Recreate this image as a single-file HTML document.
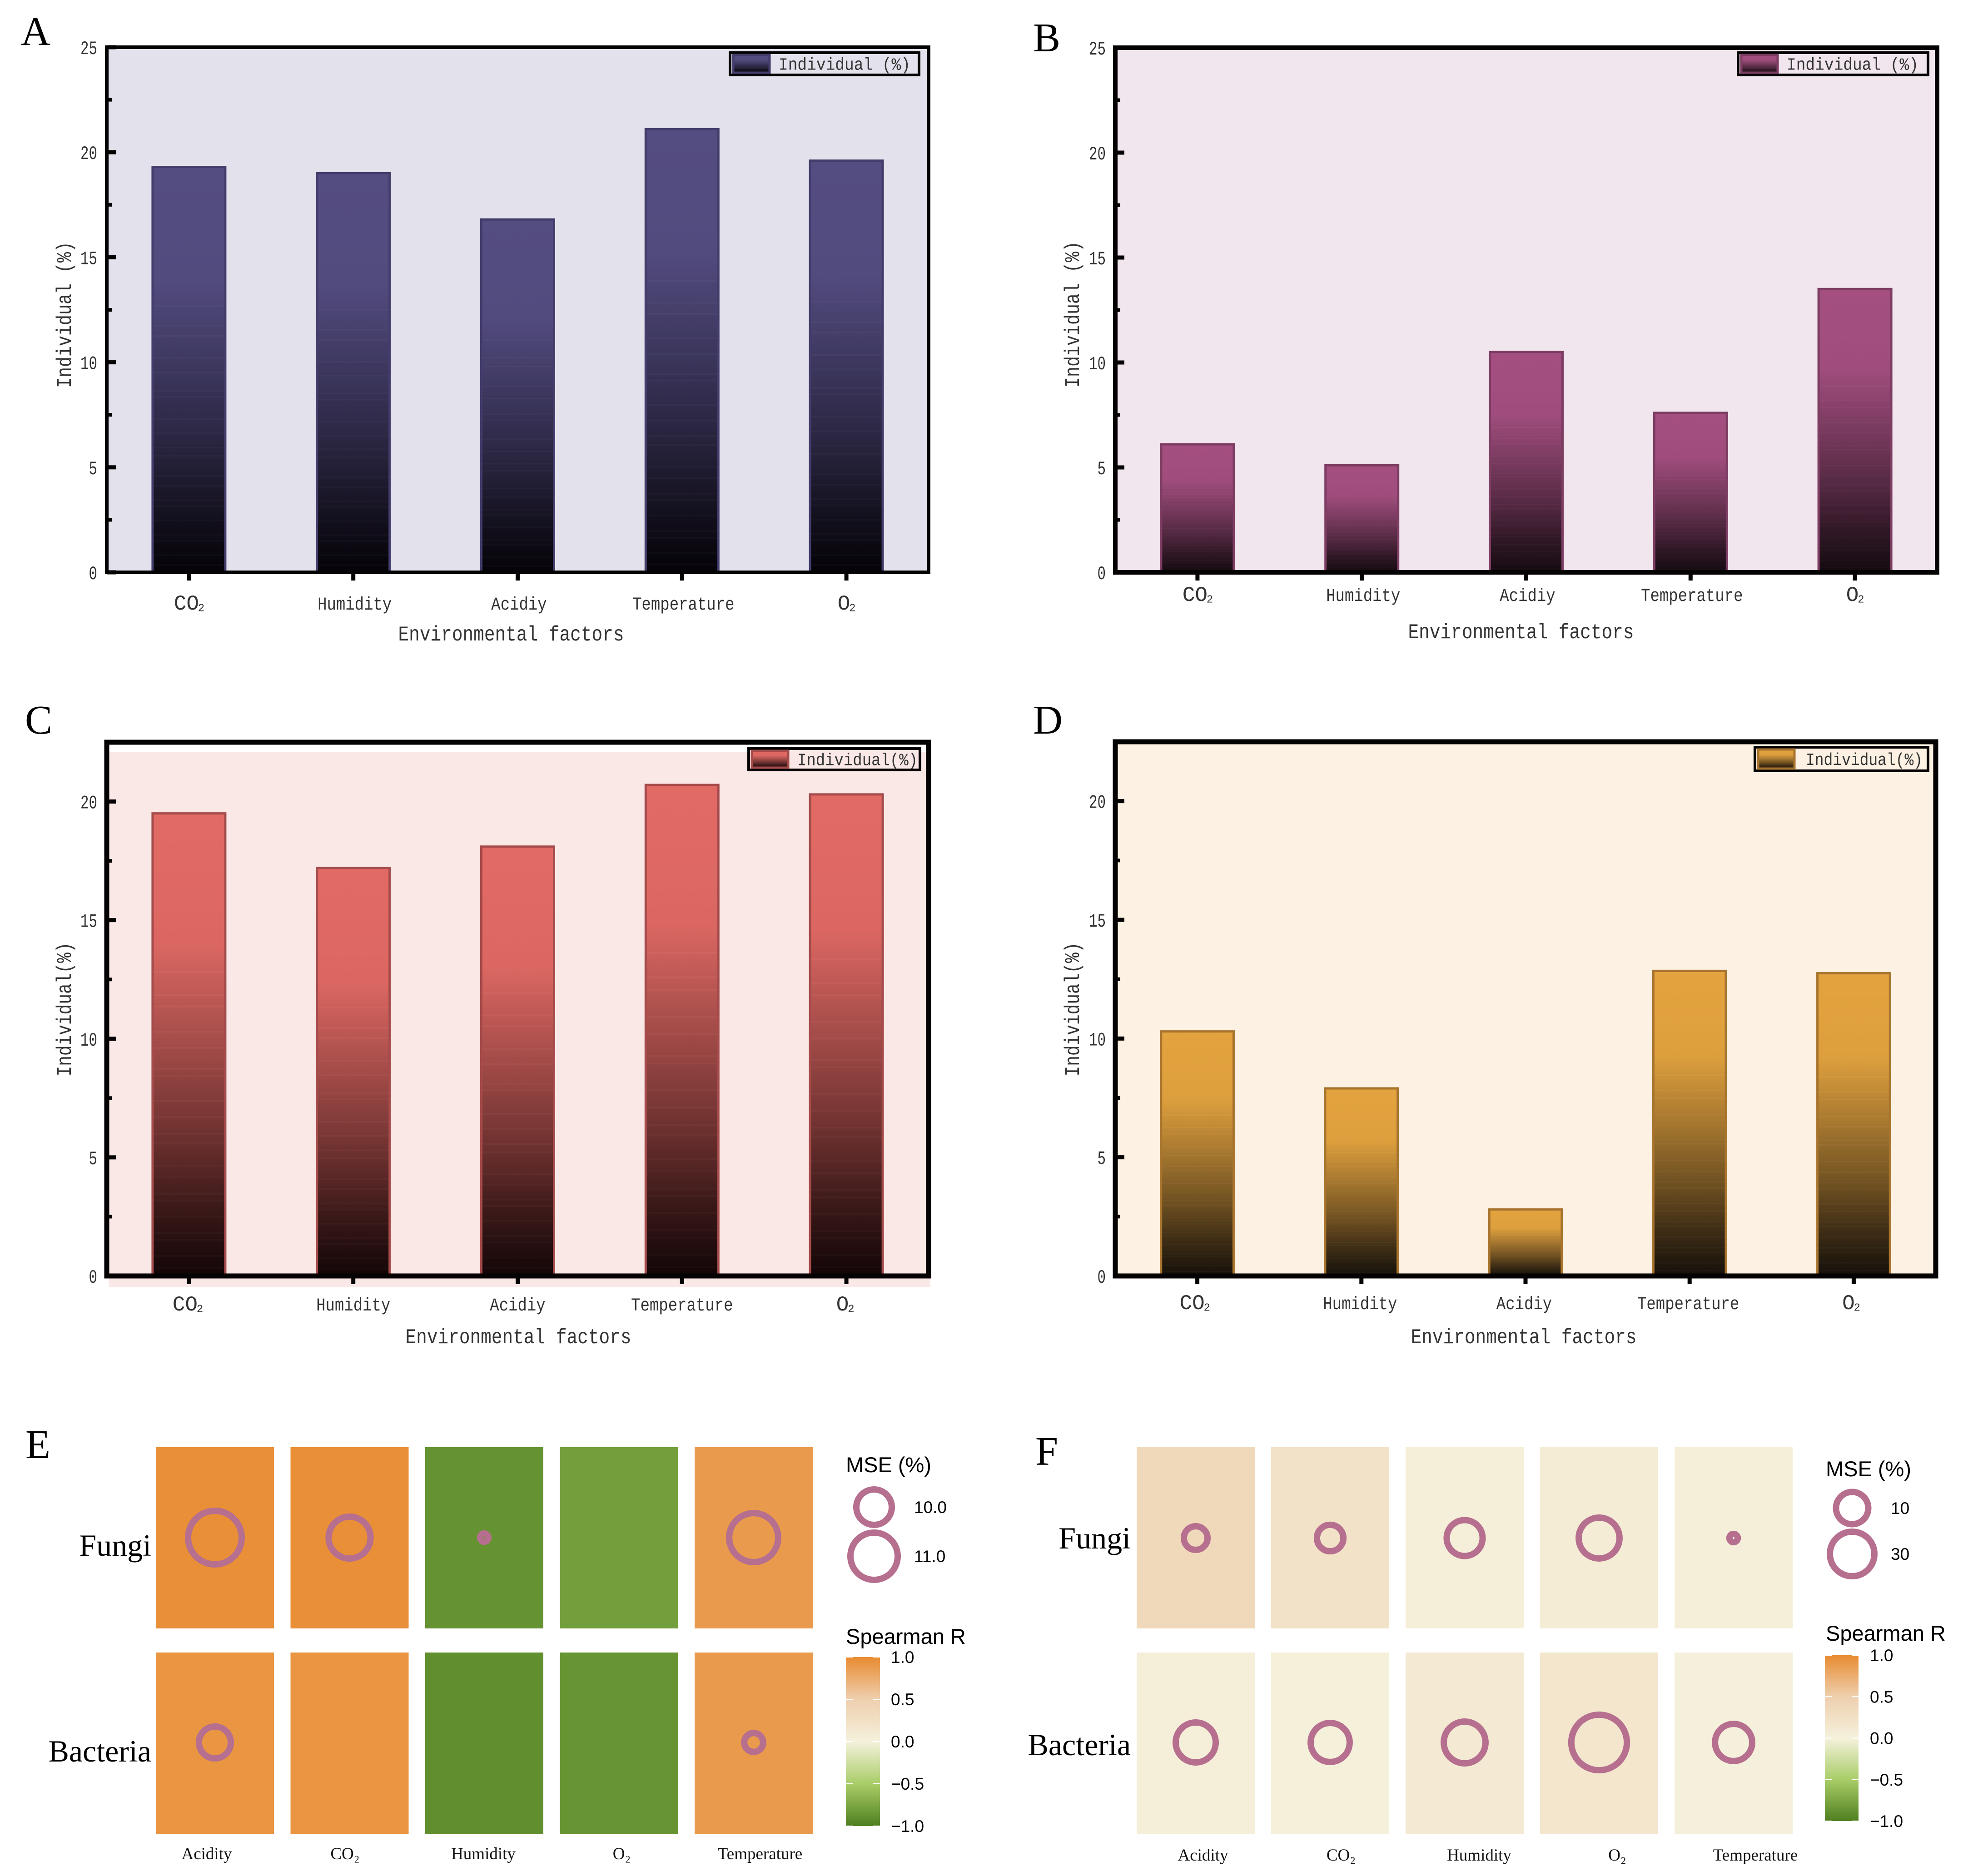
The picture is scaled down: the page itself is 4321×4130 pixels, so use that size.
<!DOCTYPE html>
<html lang="en">
<head>
<meta charset="utf-8">
<title>Environmental factors: individual importance and Spearman heatmaps</title>
<style>
html,body{margin:0;padding:0;background:#fff;}
svg{display:block;}
</style>
</head>
<body>
<svg id="figure" xmlns="http://www.w3.org/2000/svg" width="4321" height="4130" viewBox="0 0 4321 4130">
  <defs id="defs"></defs>
  <rect x="0" y="0" width="4321" height="4130" fill="#ffffff"/>
</svg>
<script>
/* ---------- chart data ---------- */
const barCategories = ['CO₂', 'Humidity', 'Acidiy', 'Temperature', 'O₂'];
const valuesA = [19.3, 19.0, 16.8, 21.1, 19.6];
const valuesB = [6.1, 5.1, 10.5, 7.6, 13.5];
const valuesC = [19.5, 17.2, 18.1, 20.7, 20.3];
const valuesD = [10.3, 7.9, 2.8, 12.85, 12.75];
const yTicksAB = [0, 5, 10, 15, 20, 25];
const yTicksCD = [0, 5, 10, 15, 20];
const minorTicksAB = [2.5, 7.5, 12.5, 17.5, 22.5];
const minorTicksCD = [2.5, 7.5, 12.5, 17.5];

const heatCategories = ['Acidity', 'CO₂', 'Humidity', 'O₂', 'Temperature'];
const heatRows = ['Fungi', 'Bacteria'];
const spearmanEFungi = [0.97, 0.97, -0.87, -0.8, 0.89];
const spearmanEBacteria = [0.93, 0.93, -0.90, -0.86, 0.89];
const mseEFungi = [11.54, 10.55, 7.7, null, 11.15];
const mseEBacteria = [9.7, null, null, null, 8.6];
const spearmanFFungi = [0.36, 0.22, 0.03, 0.08, 0.03];
const spearmanFBacteria = [0.03, 0.02, 0.10, 0.16, 0.01];
const mseFFungi = [-4, 0.5, 16, 24, -29];
const mseFBacteria = [22.6, 21, 25.5, 48, 18];
const colorbarTicks = [1, 0.5, 0, -0.5, -1];
const mseLegendE = [10, 11];
const mseLegendF = [10, 30];

/* gradient shading of the bars: [offset from top, brightness], and the faint banding offsets */
const shadeCurve = [[0, 1], [0.28, 0.97], [0.5, 0.7], [0.71, 0.42], [0.85, 0.2], [1, 0]];
const bandOffsets = [0.34, 0.39, 0.415, 0.47, 0.505, 0.55, 0.565, 0.62, 0.655, 0.69, 0.71, 0.76, 0.785, 0.82, 0.835, 0.87, 0.905, 0.92, 0.955, 0.98];

/* ---------- helpers ---------- */
const NS = 'http://www.w3.org/2000/svg';
const svg = document.getElementById('figure');
const defs = document.getElementById('defs');
const MONO = '"Liberation Mono", "Noto Sans CJK SC", monospace';
const SERIF = '"Liberation Serif", "Noto Serif CJK SC", serif';
const SANS = '"Liberation Sans", "Noto Sans CJK SC", sans-serif';

function mk(tag, attrs, parent) {
  const node = document.createElementNS(NS, tag);
  for (const k in attrs) node.setAttribute(k, attrs[k]);
  (parent || svg).appendChild(node);
  return node;
}
function txt(str, x, y, size, family, anchor, fill, parent, width, rotate) {
  const attrs = { x: x, y: y, 'font-size': size, 'font-family': family, 'text-anchor': anchor, fill: fill };
  if (width) { attrs.textLength = width; attrs.lengthAdjust = 'spacingAndGlyphs'; }
  if (rotate) attrs.transform = 'rotate(' + rotate + ' ' + x + ' ' + y + ')';
  const node = mk('text', attrs, parent);
  node.textContent = str;
  return node;
}
function gradient(id, stops) {
  const g = mk('linearGradient', { id: id, x1: 0, y1: 0, x2: 0, y2: 1 }, defs);
  stops.forEach(function (s) { mk('stop', { offset: s[0], 'stop-color': s[1] }, g); });
}
function hexRgb(h) {
  return [parseInt(h.slice(1, 3), 16), parseInt(h.slice(3, 5), 16), parseInt(h.slice(5, 7), 16)];
}
function shadeAt(o) {
  for (let i = 0; i < shadeCurve.length - 1; i++) {
    const a = shadeCurve[i], b = shadeCurve[i + 1];
    if (o <= b[0]) return a[1] + (b[1] - a[1]) * (o - a[0]) / (b[0] - a[0]);
  }
  return 0;
}
function barStops(topHex, botHex) {
  const t = hexRgb(topHex), d = hexRgb(botHex);
  const col = function (o, lift) {
    const s = shadeAt(o);
    const c = t.map(function (ch, k) { return Math.round(d[k] + (ch - d[k]) * s + lift); });
    return 'rgb(' + c.join(',') + ')';
  };
  const stops = [[0, col(0, 0)], [0.28, col(0.28, 0)]];
  bandOffsets.forEach(function (o) {
    stops.push([o, col(o, 0)]);
    stops.push([o, col(o, 5)]);
    stops.push([o + 0.004, col(o + 0.004, 5)]);
    stops.push([o + 0.004, col(o + 0.004, 0)]);
  });
  stops.push([1, col(1, 0)]);
  return stops;
}

/* ---------- bar panels ---------- */
const panels = [
  { key: 'a', letter: 'A', letterX: 46, letterY: 99, values: valuesA, ticks: yTicksAB, minor: minorTicksAB, yMax: 25,
    left: 235, right: 2044, top: 104, bottom: 1260, frame: 8, bg: '#e3e2ec', bgRect: null,
    top1: '#544d82', bot: '#050308', edge: '#423d6b', yTickSize: 42, labelDx: 3, labelY: 1342,
    xTitleX: 1125, xTitleY: 1410, yTitleX: 156, yTitleY: 693, yTitle: 'Individual (%)', yTitleW: 322,
    lx: 1604, ly: 113, lw: 422, lh: 55, legendTextX: 1714, legendText: 'Individual (%)', legendTextW: 290 },
  { key: 'b', letter: 'B', letterX: 2274, letterY: 113, values: valuesB, ticks: yTicksAB, minor: minorTicksAB, yMax: 25,
    left: 2455, right: 4264, top: 105, bottom: 1260, frame: 10, bg: '#f1e5ee', bgRect: null,
    top1: '#a44f80', bot: '#140a10', edge: '#7d3c62', yTickSize: 42, labelDx: 3, labelY: 1323,
    xTitleX: 3348, xTitleY: 1405, yTitleX: 2375, yTitleY: 692, yTitle: 'Individual (%)', yTitleW: 322,
    lx: 3823, ly: 113, lw: 424, lh: 55, legendTextX: 3933, legendText: 'Individual (%)', legendTextW: 290 },
  { key: 'c', letter: 'C', letterX: 55, letterY: 1615, values: valuesC, ticks: yTicksCD, minor: minorTicksCD, yMax: 22.5,
    left: 235, right: 2044, top: 1634, bottom: 2809, frame: 11, bg: '#fae8e6', bgRect: [239, 1656, 1809, 1177],
    top1: '#e26a65', bot: '#120506', edge: '#a54b4b', yTickSize: 42, labelDx: 0, labelY: 2885,
    xTitleX: 1141, xTitleY: 2957, yTitleX: 156, yTitleY: 2222, yTitle: 'Individual(%)', yTitleW: 295,
    lx: 1645, ly: 1645, lw: 383, lh: 53, legendTextX: 1755, legendText: 'Individual(%)', legendTextW: 265 },
  { key: 'd', letter: 'D', letterX: 2274, letterY: 1615, values: valuesD, ticks: yTicksCD, minor: minorTicksCD, yMax: 22.5,
    left: 2455, right: 4261, top: 1633, bottom: 2809, frame: 11, bg: '#fcf1e2', bgRect: null,
    top1: '#e3a33f', bot: '#15100a', edge: '#a8742d', yTickSize: 42, labelDx: -3, labelY: 2882,
    xTitleX: 3354, xTitleY: 2957, yTitleX: 2375, yTitleY: 2222, yTitle: 'Individual(%)', yTitleW: 295,
    lx: 3860, ly: 1642, lw: 387, lh: 58, legendTextX: 3975, legendText: 'Individual(%)', legendTextW: 257 }
];

panels.forEach(function (p) {
  const y = function (v) { return p.bottom - (v / p.yMax) * (p.bottom - p.top); };
  const band = (p.right - p.left) / barCategories.length;
  const cx = function (i) { return p.left + band * (i + 0.5); };
  const barW = band * 0.456;

  gradient('bar-grad-' + p.key, barStops(p.top1, p.bot));

  const group = mk('g', {});
  
  

  const letter = txt(p.letter, p.letterX, p.letterY, 90, SERIF, 'start', '#000', group);
  
  

  const b = p.bgRect || [p.left, p.top, p.right - p.left, p.bottom - p.top];
  const plotBg = mk('rect', { x: b[0], y: b[1], width: b[2], height: b[3], fill: p.bg }, group);
  
  

  p.values.forEach(function (v, i) {
    const bar = mk('rect', { x: cx(i) - barW / 2 + 2.5, y: y(v), width: barW - 5, height: p.bottom - y(v),
      fill: 'url(#bar-grad-' + p.key + ')', stroke: p.edge, 'stroke-width': 5 }, group);
    
    
  });

  const frame = mk('rect', { x: p.left, y: p.top, width: p.right - p.left, height: p.bottom - p.top,
    fill: 'none', stroke: '#040202', 'stroke-width': p.frame }, group);
  
  

  p.ticks.forEach(function (t) {
    const tick = mk('rect', { x: p.left, y: y(t) - 4.5, width: 20, height: 9, fill: '#040202' }, group);
    
    
    const s = String(t);
    const lab = txt(s, p.left - 21, y(t) + 15, p.yTickSize, MONO, 'end', '#333333', group, s.length * 18.5);
    
    
  });
  p.minor.forEach(function (t) {
    const tick = mk('rect', { x: p.left, y: y(t) - 4, width: 11, height: 8, fill: '#040202' }, group);
    
    
  });

  barCategories.forEach(function (c, i) {
    const tick = mk('rect', { x: cx(i) - 4.5, y: p.bottom, width: 9, height: 18, fill: '#040202' }, group);
    
    
    let lab;
    if (c.indexOf('₂') >= 0) {
      /* the subscript sits tight against the formula letters */
      lab = mk('text', { x: cx(i) + p.labelDx, y: p.labelY, 'font-size': 46, 'font-family': MONO, 'text-anchor': 'middle', fill: '#333333' }, group);
      const base = mk('tspan', {}, lab);
      base.textContent = c.replace('₂', '');
      const sub = mk('tspan', { dx: -7, 'font-size': 40 }, lab);
      sub.textContent = '₂';
    } else {
      lab = txt(c, cx(i) + p.labelDx, p.labelY, 40, MONO, 'middle', '#333333', group, c.length * 20.4);
    }
    
    
  });

  const xTitle = txt('Environmental factors', p.xTitleX, p.xTitleY, 46, MONO, 'middle', '#333333', group, 497);
  
  

  const yTitle = txt(p.yTitle, p.yTitleX, p.yTitleY, 46, MONO, 'middle', '#333333', group, p.yTitleW, -90);
  
  

  const legend = mk('g', {}, group);
  
  
  const box = mk('rect', { x: p.lx + 3, y: p.ly + 3, width: p.lw - 6, height: p.lh - 6, fill: p.bg, stroke: '#040202', 'stroke-width': 6 }, legend);
  
  
  const swatch = mk('rect', { x: p.lx + 10, y: p.ly + 8, width: 80, height: p.lh - 16,
    fill: 'url(#bar-grad-' + p.key + ')', stroke: p.edge, 'stroke-width': 5 }, legend);
  
  
  const ltext = txt(p.legendText, p.legendTextX, p.ly + p.lh / 2 + 13, 38, MONO, 'start', '#333333', legend, p.legendTextW);
  
  
});

/* ---------- heat maps ---------- */
const colorStops = [[-1, [79, 127, 31]], [-0.5, [169, 205, 104]], [0, [245, 241, 220]], [0.5, [238, 207, 174]], [1, [232, 139, 48]]];
function heatColor(v) {
  for (let i = 0; i < colorStops.length - 1; i++) {
    const a = colorStops[i], b = colorStops[i + 1];
    if (v <= b[0]) {
      const t = (v - a[0]) / (b[0] - a[0]);
      const c = a[1].map(function (ch, k) { return Math.round(ch + (b[1][k] - ch) * t); });
      return 'rgb(' + c.join(',') + ')';
    }
  }
  return 'rgb(232,139,48)';
}
const cbStops = colorStops.slice().reverse().map(function (s) {
  return [(1 - s[0]) / 2, 'rgb(' + s[1].join(',') + ')'];
});
gradient('colorbar-grad', cbStops);

const heatmaps = [
  { key: 'e', letter: 'E', letterX: 56, letterY: 3210, cats: heatCategories,
    spearman: [spearmanEFungi, spearmanEBacteria], mse: [mseEFungi, mseEBacteria],
    cellX0: 343, cellStep: 296.5, cellW: 260, rowY: [3186, 3638], cellH: [399, 399], circleY: [3385, 3836],
    rowLabelX: 333, rowLabelY: [3425, 3878], catX0: 455, catStep: 304.5, catY: 4093,
    rBase: 39, rSlope: 13, ref: 10, strokeW: 14,
    legendVals: mseLegendE, legendFmt: function (v) { return v.toFixed(1); }, legCx: 1924, legCy: [3318, 3426], legLabelX: 2012,
    titleX: 1862, mseY: 3241, spearmanY: 3619, cbX: 1862, cbW: 75, cbTop: 3648, cbBottom: 4020, cbLabelX: 1961 },
  { key: 'f', letter: 'F', letterX: 2279, letterY: 3225, cats: heatCategories,
    spearman: [spearmanFFungi, spearmanFBacteria], mse: [mseFFungi, mseFBacteria],
    cellX0: 2502, cellStep: 296, cellW: 260, rowY: [3186, 3638], cellH: [399, 399], circleY: [3386, 3836],
    rowLabelX: 2489, rowLabelY: [3409, 3864], catX0: 2648, catStep: 304, catY: 4096,
    rBase: 35.5, rSlope: 0.675, ref: 10, strokeW: 14,
    legendVals: mseLegendF, legendFmt: function (v) { return String(v); }, legCx: 4077, legCy: [3320, 3421], legLabelX: 4162,
    titleX: 4019, mseY: 3250, spearmanY: 3612, cbX: 4017, cbW: 74, cbTop: 3644, cbBottom: 4009, cbLabelX: 4116 }
];

heatmaps.forEach(function (h) {
  const radius = function (v) { return h.rBase + h.rSlope * (v - h.ref); };
  const group = mk('g', {});
  
  

  const letter = txt(h.letter, h.letterX, h.letterY, 90, SERIF, 'start', '#000', group);
  
  

  heatRows.forEach(function (row, r) {
    const rowLabel = txt(row, h.rowLabelX, h.rowLabelY[r], 68, SERIF, 'end', '#000', group);
    
    
    h.cats.forEach(function (c, i) {
      const x = h.cellX0 + h.cellStep * i;
      const cell = mk('rect', { x: x, y: h.rowY[r], width: h.cellW, height: h.cellH[r], fill: heatColor(h.spearman[r][i]) }, group);
      
      
      const m = h.mse[r][i];
      if (m !== null) {
        const ring = mk('circle', { cx: x + h.cellW / 2, cy: h.circleY[r], r: Math.max(radius(m), 7), fill: 'none', stroke: '#b66f8e', 'stroke-width': h.strokeW }, group);
        
        
      }
    });
  });

  h.cats.forEach(function (c, i) {
    const lab = txt(c, h.catX0 + h.catStep * i, h.catY, 37, SERIF, 'middle', '#111', group);
    
    
  });

  const mseTitle = txt('MSE (%)', h.titleX, h.mseY, 47, SANS, 'start', '#000', group);
  
  
  h.legendVals.forEach(function (v, i) {
    const ring = mk('circle', { cx: h.legCx, cy: h.legCy[i], r: radius(v), fill: 'none', stroke: '#b66f8e', 'stroke-width': h.strokeW }, group);
    
    
    const lab = txt(h.legendFmt(v), h.legLabelX, h.legCy[i] + 13, 37, SANS, 'start', '#000', group);
    
    
  });

  const spTitle = txt('Spearman R', h.titleX, h.spearmanY, 47, SANS, 'start', '#000', group);
  
  
  const bar = mk('rect', { x: h.cbX, y: h.cbTop, width: h.cbW, height: h.cbBottom - h.cbTop, fill: 'url(#colorbar-grad)' }, group);
  
  
  colorbarTicks.forEach(function (t) {
    const ty = h.cbTop + (1 - t) / 2 * (h.cbBottom - h.cbTop);
    [h.cbX, h.cbX + h.cbW - 15].forEach(function (tx) {
      const tk = mk('rect', { x: tx, y: ty - 1, width: 15, height: 2, fill: '#ffffff' }, group);
      
      
    });
    const s = (t < 0 ? '−' : '') + Math.abs(t).toFixed(1);
    const lab = txt(s, h.cbLabelX, ty + 13, 37, SANS, 'start', '#000', group);
    
    
  });
});
</script>
</body>
</html>
